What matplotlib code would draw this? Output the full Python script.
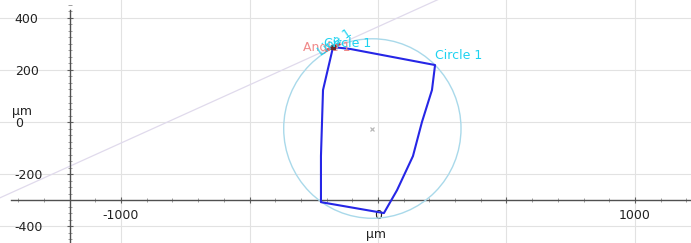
import matplotlib
matplotlib.use("Agg")
import matplotlib.pyplot as plt
from matplotlib.patches import Circle
from matplotlib.ticker import MultipleLocator, FuncFormatter

# traced outline (um)
outline_x = [-175, -109, 222, 210, 171, 136, 74, 23, -222, -222, -214, -175]
outline_y = [288, 281, 219, 123, 0, -131, -262, -350, -308, -131, 123, 288]

# fitted circle
circle_center = (-22, -25)
circle_radius = 345

# reference line through the top-left corner
line_x = [-1480, 700]
line_slope = 0.447
line_y = [288 + line_slope * (x + 175) for x in line_x]

# angle marker
angle_x = [-200, -152]
angle_y = [276, 299]

fig = plt.figure(figsize=(6.91, 2.43), dpi=100)
ax = fig.add_axes([0, 0, 1, 1])
ax.set_xlim(-1471, 1218)
ax.set_ylim(-465, 469)

# grid
ax.xaxis.set_major_locator(MultipleLocator(500))
ax.xaxis.set_minor_locator(MultipleLocator(100))
ax.yaxis.set_major_locator(MultipleLocator(200))
ax.yaxis.set_minor_locator(MultipleLocator(25))
ax.grid(True, which="major", color="#e2e2e2", linewidth=0.8, zorder=0)
ax.xaxis.set_major_formatter(FuncFormatter(lambda v, p: f"{v:.0f}" if v % 1000 == 0 else ""))
ax.yaxis.set_major_formatter(FuncFormatter(lambda v, p: f"{v:.0f}"))

# axes crossing inside the plot
for s in ["top", "right"]:
    ax.spines[s].set_visible(False)
ax.spines["left"].set_position(("data", -1200))
ax.spines["bottom"].set_position(("data", -300))
ax.spines["left"].set_bounds(-465, 432)
ax.spines["bottom"].set_bounds(-1430, 1218)
for s in ["left", "bottom"]:
    ax.spines[s].set_color("#505050")
    ax.spines[s].set_linewidth(1.0)

ax.tick_params(which="major", direction="inout", length=5, width=0.8, color="#606060",
               labelsize=9, labelcolor="#222222")
ax.tick_params(which="minor", direction="inout", length=3, width=0.6, color="#909090")
ax.tick_params(axis="x", which="major", pad=4)
ax.tick_params(axis="y", which="major", pad=37)
for lab in ax.get_yticklabels():
    lab.set_horizontalalignment("left")

ax.set_xlabel("µm", fontsize=9, color="#222222", va="center")
ax.xaxis.set_label_coords(0.544, 0.035)
ax.set_ylabel("µm", fontsize=9, color="#222222", rotation=0, va="center")
ax.yaxis.set_label_coords(0.032, 0.54)

# shapes
ax.plot(line_x, line_y, color="#e0daec", linewidth=0.9, zorder=2)
ax.add_patch(Circle(circle_center, circle_radius, fill=False, edgecolor="#a9d9ea",
                    linewidth=1.0, zorder=3))
ax.plot(*circle_center, marker="x", color="#b8b8b8", markersize=3.5, mew=0.9, zorder=3)
ax.plot(outline_x, outline_y, color="#2626e6", linewidth=1.5, zorder=4)
ax.plot(angle_x, angle_y, color="#e63939", linewidth=2.0, zorder=5)
ax.plot(outline_x[0], outline_y[0], marker="s", color="#6a2a2a", markersize=2.5, zorder=6)

# labels
ax.text(-292, 288, "Angle 1", color="#f08a8a", fontsize=9, va="center", ha="left", zorder=5)
ax.text(-210, 300, "Circle 1", color="#1ed2f0", fontsize=9, va="center", ha="left", zorder=6)
ax.text(-167, 304, "Line 1", color="#1ed2f0", fontsize=9, va="center", ha="center",
        rotation=34, zorder=6)
ax.text(222, 254, "Circle 1", color="#1ed2f0", fontsize=9, va="center", ha="left", zorder=6)

fig.savefig("out.png", dpi=100)
